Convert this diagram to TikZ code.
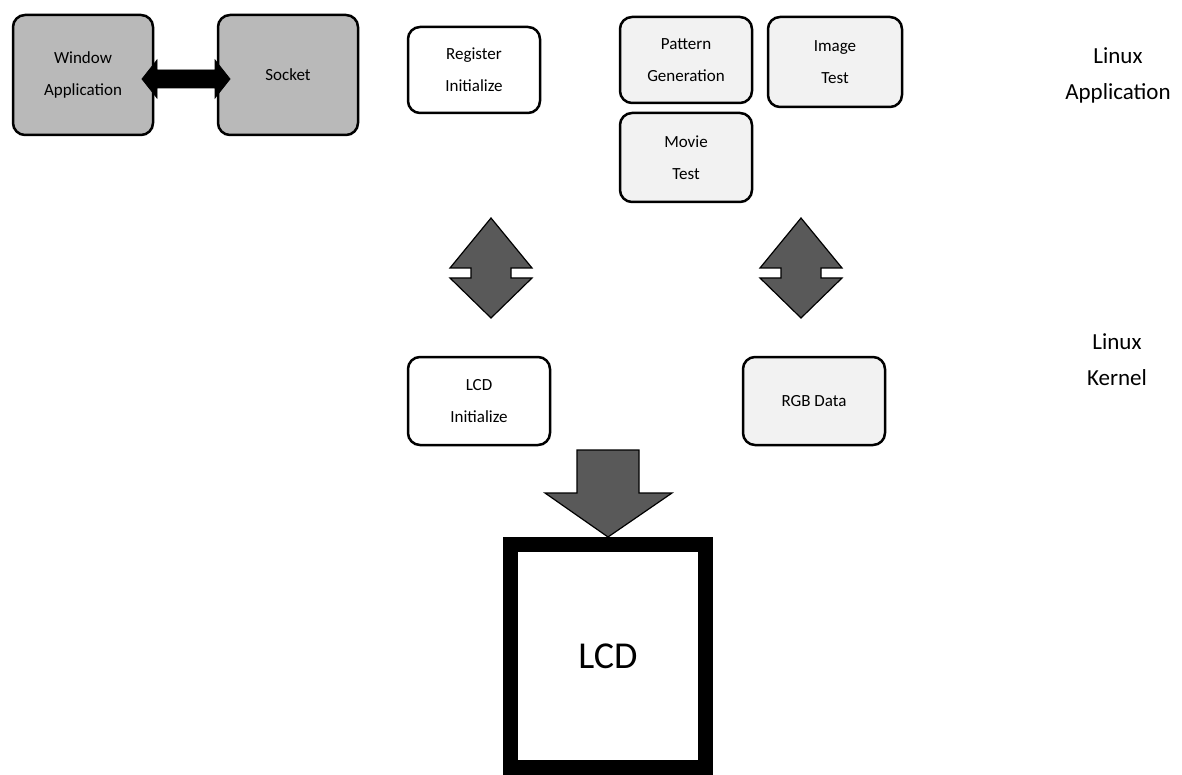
\documentclass[tikz,border=0pt]{standalone}
\usepackage{fontspec}
\setmainfont{Carlito}
\begin{document}
\begin{tikzpicture}[x=1pt,y=-1pt,
  box/.style={draw=black,line width=2.5pt,rounded corners=12pt,align=center,
    font=\fontsize{17}{32}\selectfont,inner sep=0pt},
  graybox/.style={box,fill=gray!55},
  lightbox/.style={box,fill=gray!10},
  whitebox/.style={box,fill=white},
  blockarrow/.style={draw=black,line width=1.2pt,fill=gray!70!black,line join=miter},
  blackarrow/.style={fill=black,draw=black,line width=0.8pt},
  layer/.style={align=center,font=\fontsize{23}{36}\selectfont}]
\useasboundingbox (0,0) rectangle (1182,775);
% top-left boxes
\node[graybox,minimum width=140pt,minimum height=120pt] (win) at (83,75) {Window\\Application};
\node[graybox,minimum width=140pt,minimum height=120pt] (sock) at (288,75) {Socket};
% application boxes
\node[whitebox,minimum width=132pt,minimum height=86pt] (reg) at (474,70) {Register\\Initialize};
\node[lightbox,minimum width=132pt,minimum height=86pt] (pat) at (686,60) {Pattern\\Generation};
\node[lightbox,minimum width=134pt,minimum height=90pt] (img) at (835,62) {Image\\Test};
\node[lightbox,minimum width=132pt,minimum height=89pt] (mov) at (686,157.5) {Movie\\Test};
% kernel boxes
\node[whitebox,minimum width=142pt,minimum height=88pt] (lcdi) at (479,401) {LCD\\Initialize};
\node[lightbox,minimum width=142pt,minimum height=88pt] (rgb) at (814,401) {RGB Data};
% LCD
\node[draw=black,line width=15pt,minimum width=195pt,minimum height=223pt,
  font=\fontsize{38}{42}\selectfont] (lcd) at (608,656) {LCD};
% layer labels
\node[layer] (app) at (1118,75) {Linux\\Application};
\node[layer] (ker) at (1117,360) {Linux\\Kernel};
% horizontal double arrow between Window Application and Socket
\filldraw[blackarrow] (142,79) -- (157,60) -- (157,70) -- (215,70) -- (215,60) -- (230,79)
  -- (215,98) -- (215,88) -- (157,88) -- (157,98) -- cycle;
% vertical double arrows
\filldraw[blockarrow] (491,218) -- (532,268) -- (511,268) -- (511,278) -- (532,278) -- (491,318)
  -- (450,278) -- (471,278) -- (471,268) -- (450,268) -- cycle;
\filldraw[blockarrow] (801,218) -- (842,268) -- (821,268) -- (821,278) -- (842,278) -- (801,318)
  -- (760,278) -- (781,278) -- (781,268) -- (760,268) -- cycle;
% down arrow into LCD
\filldraw[blockarrow] (577,450) -- (639,450) -- (639,493) -- (672,493) -- (608,537)
  -- (545,493) -- (577,493) -- cycle;
\end{tikzpicture}
\end{document}
